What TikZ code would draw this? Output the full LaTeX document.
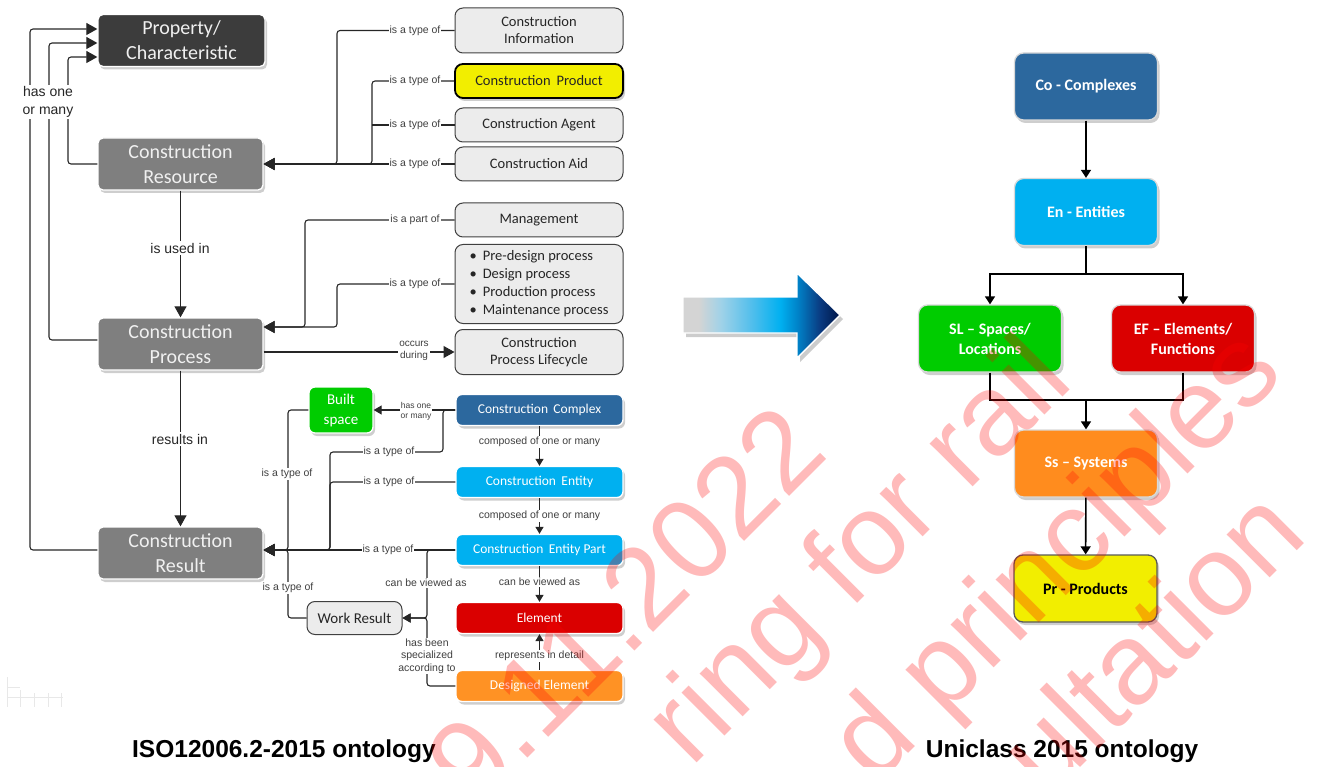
\documentclass[tikz,border=0pt]{standalone}
\usepackage{fontspec}
\setmainfont{Carlito}
\newfontfamily\arialf{Liberation Sans}
\usetikzlibrary{arrows.meta,shadows}

\definecolor{darkbox}{RGB}{60,60,60}
\definecolor{midgray}{RGB}{127,127,127}
\definecolor{litegray}{RGB}{236,236,236}
\definecolor{edgegray}{RGB}{64,64,64}
\definecolor{prodyellow}{RGB}{242,238,0}
\definecolor{cxblue}{RGB}{44,104,158}
\definecolor{skyblue}{RGB}{0,176,240}
\definecolor{elred}{RGB}{218,0,0}
\definecolor{dsorange}{RGB}{255,146,36}
\definecolor{slgreen}{RGB}{0,204,0}
\definecolor{ssorange}{RGB}{255,140,30}
\definecolor{arrgray}{RGB}{212,212,212}
\definecolor{arrlight}{RGB}{160,210,232}
\definecolor{arrsoft}{RGB}{80,190,236}
\definecolor{arrmid}{RGB}{0,130,200}
\definecolor{arrdeep}{RGB}{10,60,130}
\definecolor{arrnavy}{RGB}{0,20,70}

% left-to-right fill of the transition arrow
\pgfdeclarehorizontalshading{flowarrow}{100bp}{color(0bp)=(arrgray); color(30bp)=(arrgray);
  color(37bp)=(arrlight); color(47bp)=(arrsoft); color(56bp)=(skyblue);
  color(61.5bp)=(arrmid); color(68.5bp)=(arrdeep); color(75bp)=(arrnavy); color(100bp)=(arrnavy)}

\newcommand\fs[2]{\fontsize{#1}{#2}\selectfont}

\begin{document}
\begin{tikzpicture}[x=1pt,y=-1pt,
  shade box/.style={drop shadow={shadow xshift=2pt,shadow yshift=-3pt,opacity=0.35,fill=black!55}},
  boxbase/.style={rounded corners=6pt, align=center, inner sep=2pt},
  heavy/.style={boxbase, rounded corners=5pt, shade box, draw=white, line width=1.3pt, fill=midgray,
    text=white!94!black, font=\fs{20}{25}, minimum width=165pt, minimum height=52pt},
  lite/.style={boxbase, rounded corners=8pt, draw=edgegray, line width=1pt, fill=litegray,
    text=black!85, font=\fs{14.5}{17}, minimum width=168pt},
  tint/.style={boxbase, shade box, draw=white, line width=1.3pt, text=white,
    font=\fs{13.5}{16}, minimum width=167pt, minimum height=31pt},
  uni/.style={boxbase, rounded corners=9pt, shade box, draw=white!85!black, line width=1.3pt,
    text=white, font=\bfseries\fs{16}{20}, minimum width=143pt, minimum height=67pt},
  conn/.style={draw=black!85, line width=1.1pt, rounded corners=3pt},
  bigtip/.style={-{Triangle[length=11pt,width=12pt]}},
  midtip/.style={-{Triangle[length=8pt,width=9pt]}},
  smalltip/.style={-{Triangle[length=7pt,width=8pt]}},
  uniconn/.style={draw=black, line width=1.6pt},
  unitip/.style={-{Triangle[length=8pt,width=10pt]}},
  lbl/.style={fill=white, inner sep=1pt, font=\arialf\fs{10.5}{12.5}, text=black!75, align=center},
  biglbl/.style={fill=white, inner sep=1.5pt, font=\arialf\fs{14}{18}, text=black!85, align=center},
  heading/.style={font=\arialf\bfseries\fs{24.5}{28}, text=black, anchor=base, inner sep=0pt},
  wm/.style={rotate=45, text=red, text opacity=0.27, font=\arialf\fs{115}{115}, inner sep=0pt}]

\useasboundingbox (0,0) rectangle (1338,767);

% ---------------- ISO 12006-2 ontology ----------------
\node[heavy, fill=darkbox, minimum width=167pt] (prop) at (181.5,40.5) {Property/\\Characteristic};
\node[heavy] (res)  at (180.5,164) {Construction\\Resource};
\node[heavy] (proc) at (180.5,344) {Construction\\Process};
\node[heavy] (resu) at (180.5,553) {Construction\\Result};

\node[lite, minimum height=45pt] (info) at (539,30.5) {Construction\\Information};
\node[lite, minimum height=34pt, fill=prodyellow, draw=black, line width=1.8pt, shade box] (prod) at (539,81)
  {Construction\hspace{0.4em}Product};
\node[lite, minimum height=34pt] (agent) at (539,125) {Construction Agent};
\node[lite, minimum height=34pt] (aid)   at (539,164) {Construction Aid};
\node[lite, minimum height=34pt] (mgmt)  at (539,220) {Management};
\node[lite, minimum height=79pt, font=\fs{14.5}{18}] (kinds) at (539,284)
  {\begin{tabular}{@{}l@{\hspace{6pt}}l@{}}
   \textbullet & Pre-design process\\
   \textbullet & Design process\\
   \textbullet & Production process\\
   \textbullet & Maintenance process
   \end{tabular}};
\node[lite, minimum height=45pt] (life) at (539,352) {Construction\\Process Lifecycle};

\node[tint, fill=cxblue]   (cplx) at (539.5,410) {Construction\hspace{0.4em}Complex};
\node[tint, fill=skyblue]  (enty) at (539.5,482) {Construction\hspace{0.4em}Entity};
\node[tint, fill=skyblue]  (part) at (539.5,550) {Construction\hspace{0.4em}Entity Part};
\node[tint, fill=elred]    (elem) at (539.5,618) {Element};
\node[tint, fill=dsorange] (dsgn) at (539.5,686) {Designed Element};

\node[tint, fill=slgreen, minimum width=64pt, minimum height=46pt, font=\fs{15}{20}] (bsp) at (341,410) {Built\\space};
\node[lite, minimum width=95pt, minimum height=33pt, font=\fs{15}{17}] (wres) at (354.5,618) {Work Result};

% resources
\draw[conn, bigtip] (info.west) -- (337,30.5) -- (337,164) -- (res.east);
\draw[conn, bigtip] (prod.west) -- (372,81) -- (372,164) -- (res.east);
\draw[conn] (agent.west) -- (372,125);
\draw[conn, bigtip] (aid.west) -- (res.east);

% processes
\draw[conn, bigtip] (mgmt.west) -- (305,220) -- (305,327) -- (proc.east |- 0,327);
\draw[conn, bigtip] (kinds.west) -- (337,284) -- (337,327) -- (proc.east |- 0,327);
\draw[conn, bigtip] (proc.east |- 0,352) -- (life.west);

\draw[conn, bigtip] (res.south) -- (proc.north);
\draw[conn, bigtip] (proc.south) -- (resu.north);

% properties
\draw[conn, bigtip] (resu.west |- 0,550) -- (30,550) -- (30,29) -- (prop.west |- 0,29);
\draw[conn, bigtip] (proc.west |- 0,340) -- (49,340) -- (49,43) -- (prop.west |- 0,43);
\draw[conn, bigtip] (res.west) -- (68,164) -- (68,57) -- (prop.west |- 0,57);

% results
\draw[conn, midtip] (cplx.west) -- (bsp.east);
\draw[conn, bigtip] (cplx.west) -- (443,410) -- (443,452) -- (330,452) -- (330,550) -- (resu.east |- 0,550);
\draw[conn, bigtip] (enty.west) -- (330,482) -- (330,550) -- (resu.east |- 0,550);
\draw[conn, bigtip] (part.west) -- (resu.east |- 0,550);
\draw[conn, bigtip] (bsp.west) -- (288,410) -- (288,550) -- (resu.east |- 0,550);
\draw[conn, bigtip] (wres.west) -- (288,618) -- (288,550) -- (resu.east |- 0,550);
\draw[conn, midtip] (part.west) -- (427,550) -- (427,618) -- (wres.east);
\draw[conn, midtip] (dsgn.west) -- (427,686) -- (427,618) -- (wres.east);

\draw[conn, smalltip] (cplx.south) -- (enty.north);
\draw[conn, smalltip] (enty.south) -- (part.north);
\draw[conn, smalltip] (part.south) -- (elem.north);
\draw[conn, smalltip] (dsgn.north) -- (elem.south);

% relation labels
\node[lbl] (l1) at (415,30.5) {is a type of};
\node[lbl] (l2) at (415,81) {is a type of};
\node[lbl] (l3) at (415,125) {is a type of};
\node[lbl] (l4) at (415,164) {is a type of};
\node[lbl] (l5) at (415,220) {is a part of};
\node[lbl] (l6) at (415,284) {is a type of};
\node[lbl, font=\arialf\fs{10}{12}] (l7) at (414,351) {occurs\\during};
\node[biglbl] (l8) at (180,248) {is used in};
\node[biglbl] (l9) at (180,439) {results in};
\node[biglbl] (l10) at (48,102) {has one\\or many};

\node[lbl, font=\arialf\fs{8.5}{10}] (l11) at (416,411) {has one\\or many};
\node[lbl] (l12) at (389,452) {is a type of};
\node[lbl] (l13) at (389,482) {is a type of};
\node[lbl] (l14) at (388,550) {is a type of};
\node[lbl] (l15) at (287,474) {is a type of};
\node[lbl] (l16) at (288,588) {is a type of};
\node[lbl] (l17) at (426,583) {can be viewed as};
\node[lbl] (l18) at (427,656) {has been\\specialized\\according to};
\node[lbl] (l19) at (539.5,442) {composed of one or many};
\node[lbl] (l20) at (539.5,516) {composed of one or many};
\node[lbl] (l21) at (539.5,582) {can be viewed as};
\node[lbl] (l22) at (539.5,656) {represents in detail};

% faint ruler marks
\draw[black!9, line width=0.6pt] (7,677) -- (7,707) (7,697) -- (63,697) (7,687) -- (20,687)
  (20,690) -- (20,707) (34,693) -- (34,707) (48,693) -- (48,707) (61,693) -- (61,707);

\node[heading] (t1) at (284,757) {ISO12006.2-2015 ontology};

% ---------------- transition arrow ----------------
\fill[black, opacity=0.2, xshift=3pt, yshift=-4pt]
  (683,297) -- (797,297) -- (797,273) -- (840,315) -- (797,358) -- (797,333) -- (683,333) -- cycle;
\shadedraw[shading=flowarrow, draw=white, line width=1.4pt]
  (683,297) -- (797,297) -- (797,273) -- (840,315) -- (797,358) -- (797,333) -- (683,333) -- cycle;

% ---------------- Uniclass 2015 ontology ----------------
\node[uni, fill=cxblue]   (co) at (1086,86.5) {Co - Complexes};
\node[uni, fill=skyblue]  (en) at (1086,212) {En - Entities};
\node[uni, fill=slgreen]  (sl) at (990,338.5) {SL -- Spaces/\\Locations};
\node[uni, fill=elred]    (ef) at (1183,338.5) {EF -- Elements/\\Functions};
\node[uni, fill=ssorange] (ss) at (1086,463.5) {Ss -- Systems};
\node[uni, fill=prodyellow, text=black, draw=black!65] (pr) at (1085.5,588.5) {Pr - Products};

\coordinate (split) at (1086,274);
\coordinate (merge) at (1086,400);
\draw[uniconn, unitip] (co) -- (en);
\draw[uniconn] (en.south) -- (split);
\draw[uniconn, unitip] (split) -| (sl.north);
\draw[uniconn, unitip] (split) -| (ef.north);
\draw[uniconn] (sl.south) |- (merge);
\draw[uniconn] (ef.south) |- (merge);
\draw[uniconn, unitip] (merge) -- (ss.north);
\draw[uniconn, unitip] (ss) -- (pr);

\node[heading] (t2) at (1062,757) {Uniclass 2015 ontology};

% ---------------- watermark ----------------
\begin{scope}
  \clip (0,0) rectangle (1338,767);
  \node[wm] (w1) at (625,605) {9.11.2022};
  \node[wm] (w2) at (863,555) {ring for rail};
  \node[wm] (w3) at (1060,560) {d principles};
  \node[wm] (w4) at (1150,640) {ultation};
\end{scope}
\end{tikzpicture}
\end{document}
